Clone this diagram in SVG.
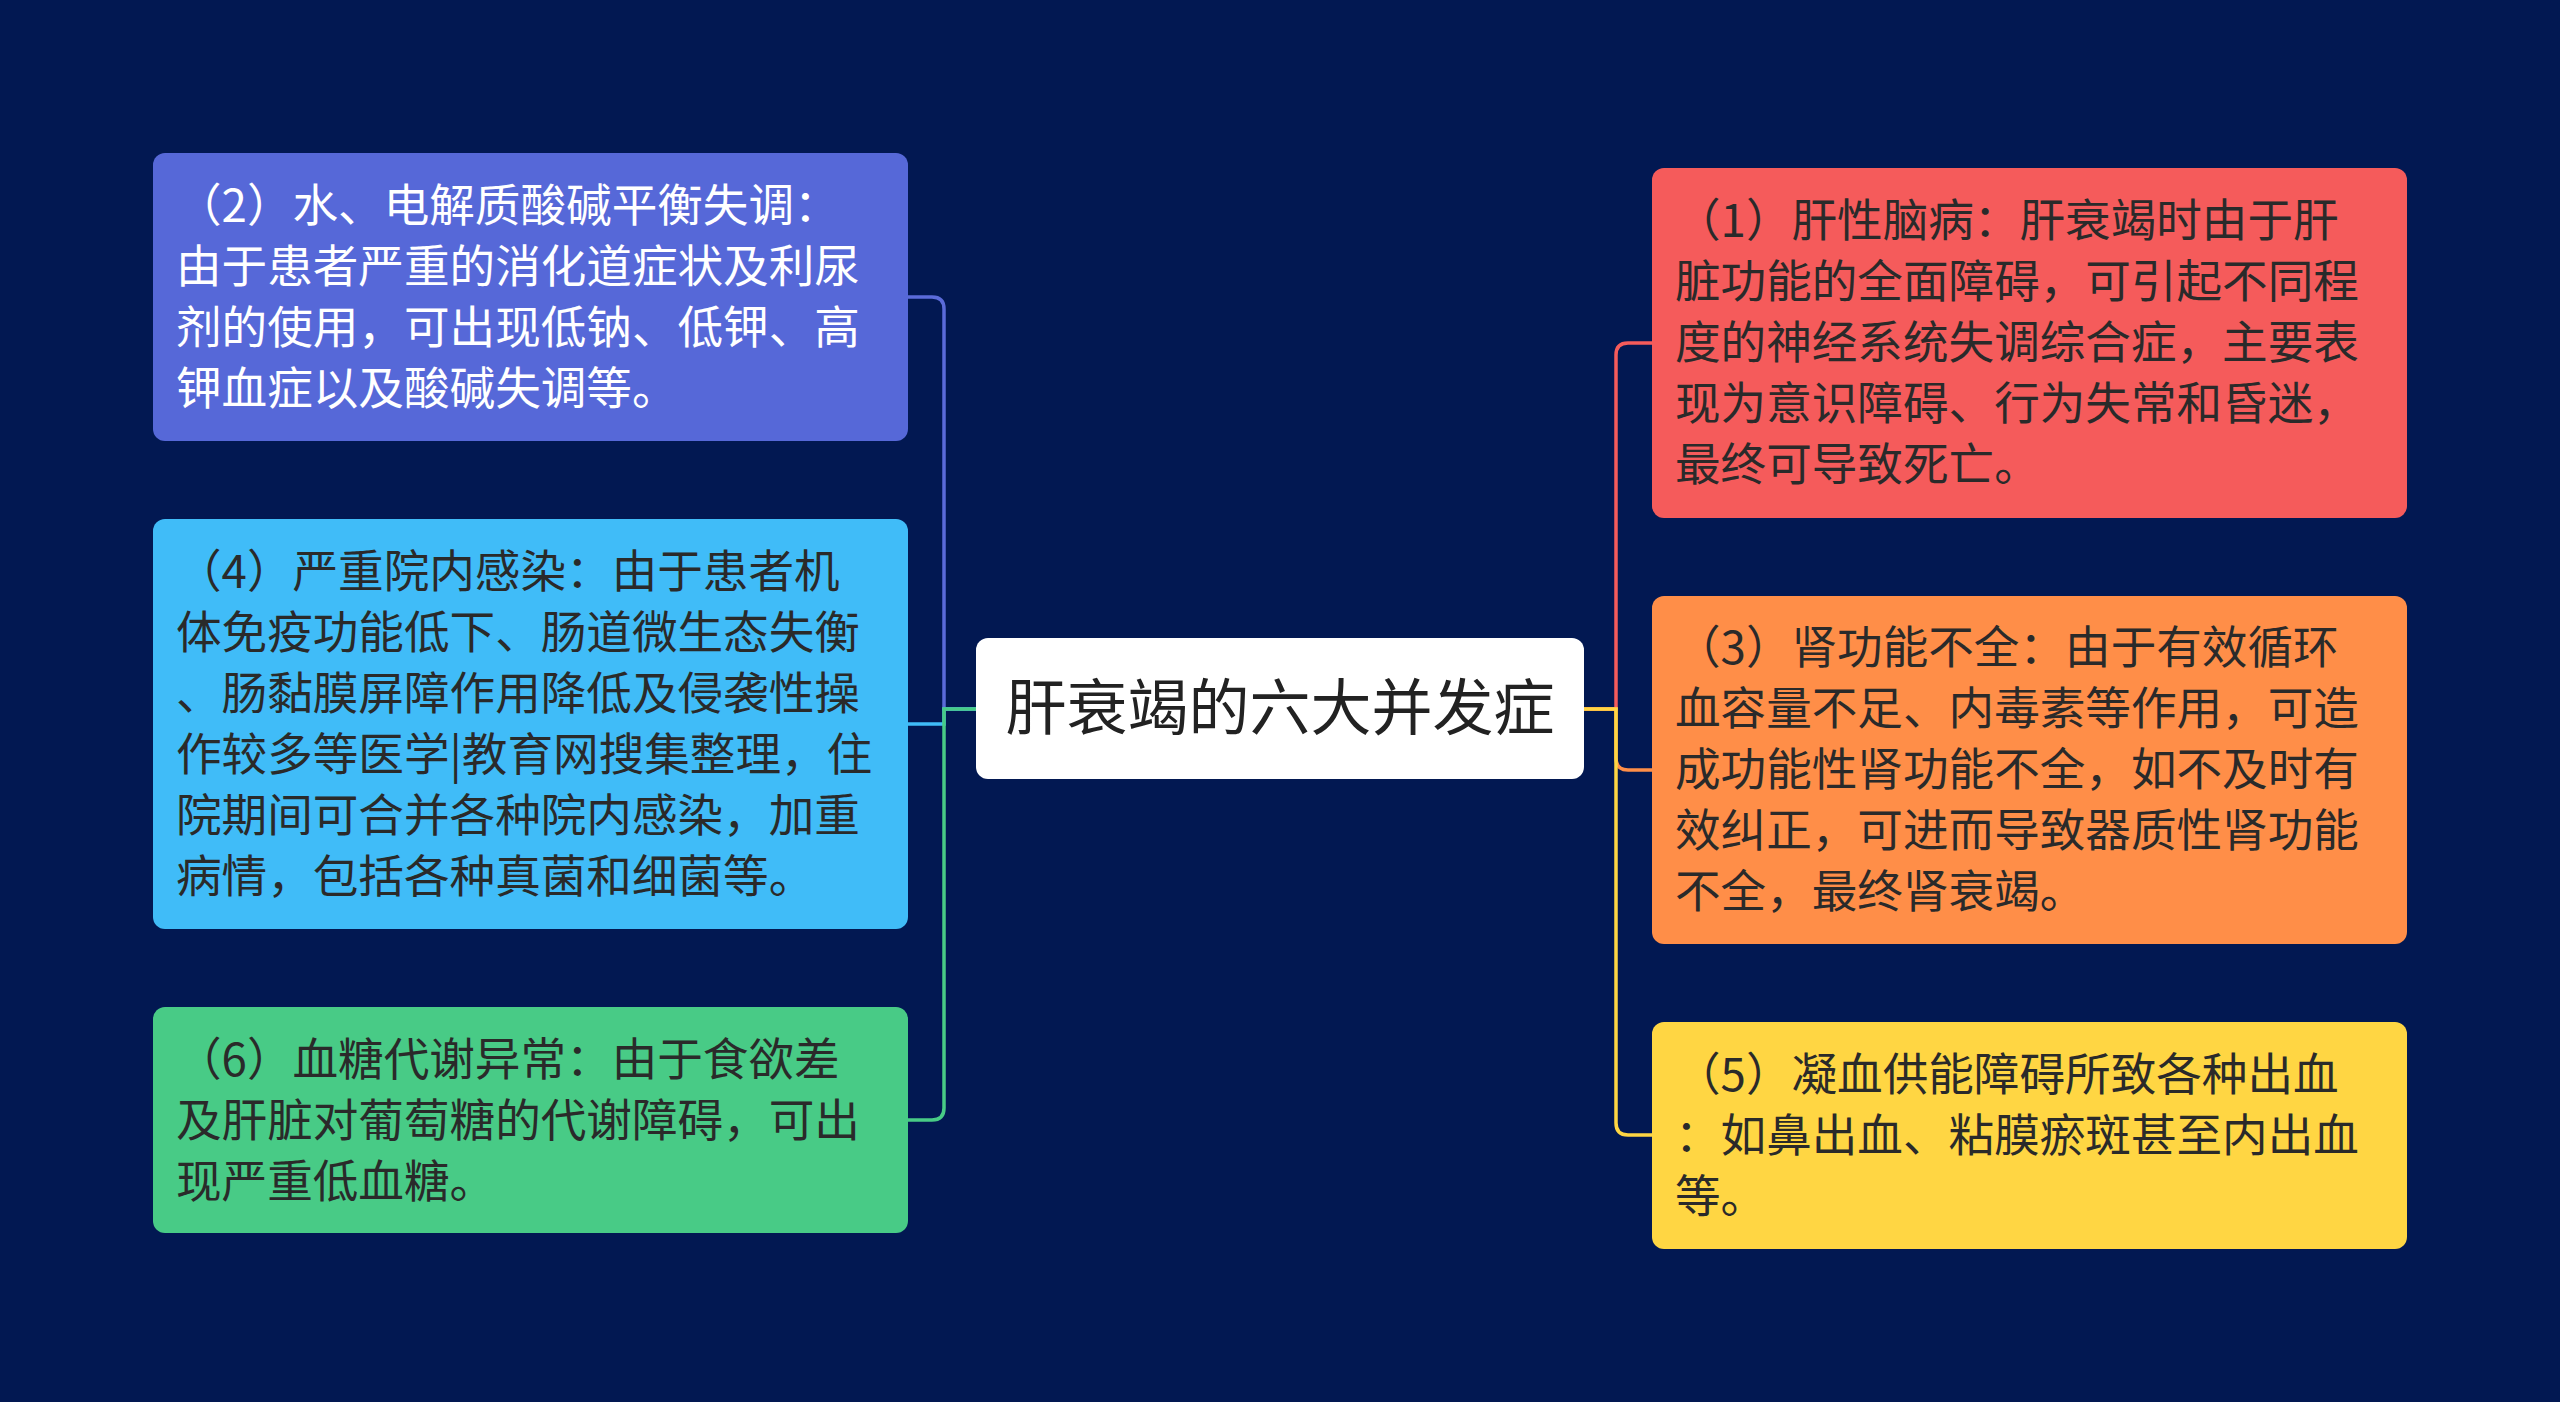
<svg xmlns="http://www.w3.org/2000/svg" width="2560" height="1402" viewBox="0 0 2560 1402">
<style>
.t{font-family:"Noto Sans CJK SC","Noto Sans",sans-serif;font-size:45.6px;fill:#2a2a2a}
.w{fill:#ffffff}
.c{fill:none;stroke-width:3.5}
</style>
<rect width="2560" height="1402" fill="#021852"/>
<g id="connectors">
<path class="c" stroke="#5B6BD9" d="M976,709 H944 V309 Q944,297 932,297 H908"/>
<path class="c" stroke="#40BCF8" d="M976,709 H944 V724 H908"/>
<path class="c" stroke="#48CB86" d="M976,709 H944 V1108 Q944,1120 932,1120 H908"/>
<path class="c" stroke="#F55B5B" d="M1584,709 H1616 V355 Q1616,343 1628,343 H1652"/>
<path class="c" stroke="#FF8E48" d="M1584,709 H1616 V758 Q1616,770 1628,770 H1652"/>
<path class="c" stroke="#FFD643" d="M1584,709 H1616 V1123 Q1616,1135 1628,1135 H1652"/>
</g>
<g id="center">
<rect x="976" y="638" width="608" height="141" rx="12" fill="#ffffff"/>
<text x="1280" y="730" text-anchor="middle" style="font-family:'Noto Sans CJK SC',sans-serif;font-size:61px;fill:#222">肝衰竭的六大并发症</text>
</g>
<g id="n2">
<rect x="153" y="153" width="755" height="288" rx="12" fill="#5668D8"/>
<text class="t w" x="176"><tspan x="176" y="222">（2）水、电解质酸碱平衡失调：</tspan><tspan x="176" y="283">由于患者严重的消化道症状及利尿</tspan><tspan x="176" y="344">剂的使用，可出现低钠、低钾、高</tspan><tspan x="176" y="405">钾血症以及酸碱失调等。</tspan></text>
</g>
<g id="n4">
<rect x="153" y="519" width="755" height="410" rx="12" fill="#40BCF8"/>
<text class="t" x="176"><tspan x="176" y="588">（4）严重院内感染：由于患者机</tspan><tspan x="176" y="649">体免疫功能低下、肠道微生态失衡</tspan><tspan x="176" y="710">、肠黏膜屏障作用降低及侵袭性操</tspan><tspan x="176" y="771">作较多等医学|教育网搜集整理，住</tspan><tspan x="176" y="832">院期间可合并各种院内感染，加重</tspan><tspan x="176" y="893">病情，包括各种真菌和细菌等。</tspan></text>
</g>
<g id="n6">
<rect x="153" y="1007" width="755" height="226" rx="12" fill="#48CB86"/>
<text class="t" x="176"><tspan x="176" y="1076">（6）血糖代谢异常：由于食欲差</tspan><tspan x="176" y="1137">及肝脏对葡萄糖的代谢障碍，可出</tspan><tspan x="176" y="1198">现严重低血糖。</tspan></text>
</g>
<g id="n1">
<rect x="1652" y="168" width="755" height="350" rx="12" fill="#F55B5B"/>
<text class="t" x="1675"><tspan x="1675" y="237">（1）肝性脑病：肝衰竭时由于肝</tspan><tspan x="1675" y="298">脏功能的全面障碍，可引起不同程</tspan><tspan x="1675" y="359">度的神经系统失调综合症，主要表</tspan><tspan x="1675" y="420">现为意识障碍、行为失常和昏迷，</tspan><tspan x="1675" y="481">最终可导致死亡。</tspan></text>
</g>
<g id="n3">
<rect x="1652" y="596" width="755" height="348" rx="12" fill="#FF8E48"/>
<text class="t" x="1675"><tspan x="1675" y="664">（3）肾功能不全：由于有效循环</tspan><tspan x="1675" y="725">血容量不足、内毒素等作用，可造</tspan><tspan x="1675" y="786">成功能性肾功能不全，如不及时有</tspan><tspan x="1675" y="847">效纠正，可进而导致器质性肾功能</tspan><tspan x="1675" y="908">不全，最终肾衰竭。</tspan></text>
</g>
<g id="n5">
<rect x="1652" y="1022" width="755" height="227" rx="12" fill="#FFD643"/>
<text class="t" x="1675"><tspan x="1675" y="1091">（5）凝血供能障碍所致各种出血</tspan><tspan x="1675" y="1152">：如鼻出血、粘膜瘀斑甚至内出血</tspan><tspan x="1675" y="1213">等。</tspan></text>
</g>
</svg>
